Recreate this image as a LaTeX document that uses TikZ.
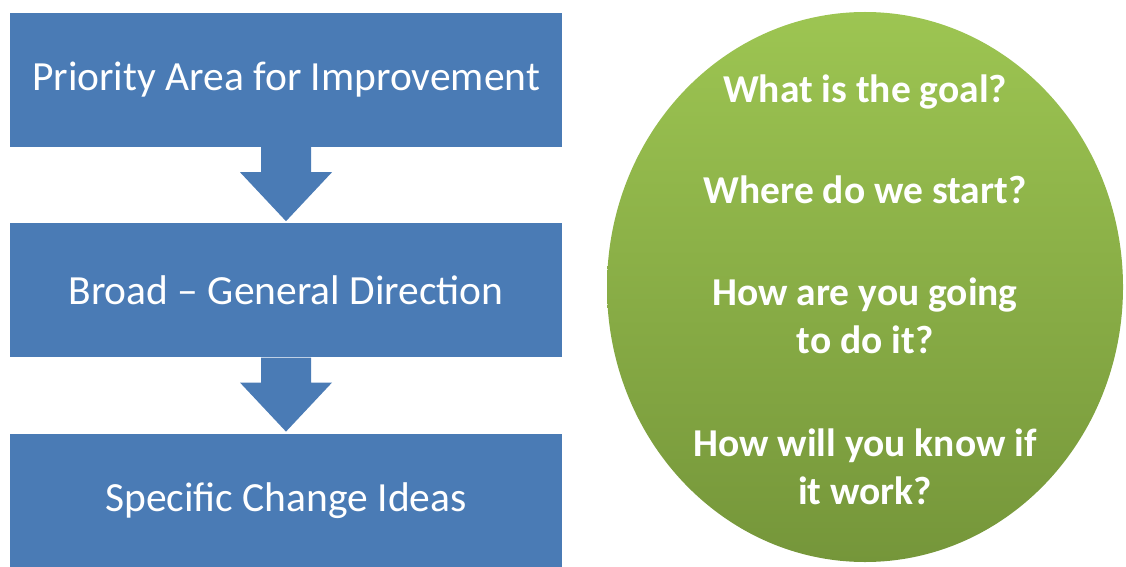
\documentclass[tikz,border=0pt]{standalone}
\usepackage{fontspec}
\setmainfont{Carlito}
\usepackage{tikz}
\usetikzlibrary{shapes,arrows}
\usetikzlibrary{positioning,calc}
\definecolor{boxblue}{RGB}{74,123,181}
\definecolor{leafhi}{RGB}{157,197,82}
\definecolor{leaflo}{RGB}{117,150,58}

\begin{document}
\begin{tikzpicture}
    [line cap=round,line join=round,x=1pt,y=-1pt,
     stepbox/.style={rectangle,fill=boxblue,minimum width=552pt,minimum height=134pt,inner sep=0pt,text=white,font=\fontsize{41.5}{48}\selectfont},
     downarrow/.style={fill=boxblue},
     question/.style={text=white,align=center,font=\fontsize{39.5}{48}\selectfont\bfseries}]
\useasboundingbox (0,0) rectangle (1126,567);
%the three boxes
 \node[stepbox] (area) at (286,80) {Priority Area for Improvement};
 \node[stepbox,below=76pt of area] (broad) {Broad – General Direction};
 \node[stepbox,below=76pt of broad] (ideas) {Specific Change Ideas};
%block arrows from box to box
 \foreach \a/\b in {area/broad,broad/ideas}
   \fill[downarrow] ($(\a.south)+(-25,0)$) -- ++(0,25) -- ++(-21,0) -- ($(\b.north)+(0,-2)$)
        -- ($(\a.south)+(46,25)$) -- ++(-21,0) -- ($(\a.south)+(25,0)$) -- cycle;
%the green circle
 \node[ellipse,minimum width=516pt,minimum height=550pt,inner sep=0pt,top color=leafhi,bottom color=leaflo] (circ) at (865,287) {};
 \node[question] (goal) at (865,92) {What is the goal?};
 \node[question] (start) at (865,190) {Where do we start?};
 \node[question] (how) at (865,316) {How are you going\\to do it?};
 \node[question] (know) at (865,467) {How will you know if\\it work?};
\end{tikzpicture}
\end{document}
